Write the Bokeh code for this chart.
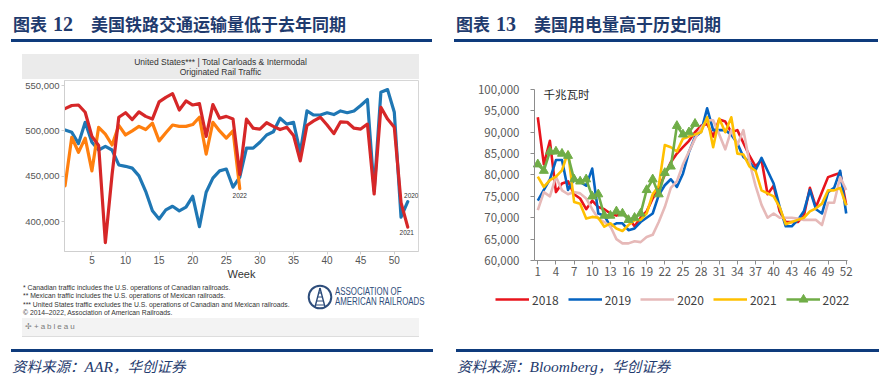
from bokeh.plotting import figure
from bokeh.layouts import row, column
from bokeh.models import Div, FixedTicker, NumeralTickFormatter, Range1d, Label, Legend, LegendItem
from bokeh.core.properties import value
from bokeh.embed import file_html
from bokeh.resources import INLINE

# ---------------- Left chart: AAR weekly rail traffic ----------------
rail_weeks = list(range(1, 53))
rail_weeks_2022 = list(range(1, 28))
rail_2020 = [501000, 498500, 486000, 509500, 487500, 479000, 483000, 479000, 462500, 461000,
             459000, 450500, 433500, 412000, 403000, 413000, 417000, 412000, 416000, 428000,
             394500, 432500, 448000, 456000, 458000, 438000, 449000, 481000, 481000, 487500,
             495500, 499000, 514000, 507500, 509500, 476000, 522000, 517500, 517500, 520000,
             518000, 522000, 520000, 522000, 528000, 534500, 434000, 542500, 545500, 520500,
             405000, 422000]
rail_2021 = [524500, 528000, 528500, 520500, 494000, 484000, 377000, 452000, 515000, 520000,
             512500, 521000, 516000, 513000, 532000, 537000, 541000, 523000, 533000, 528500,
             530000, 494000, 529000, 514000, 516000, 513000, 452000, 513000, 503000, 502000,
             509000, 505000, 501500, 504000, 495000, 467000, 506000, 511000, 515000, 506500,
             497000, 510000, 509500, 503000, 502000, 507500, 430500, 526000, 513000, 504000,
             421000, 394000]
rail_2022 = [439500, 493000, 476500, 492000, 456000, 504000, 496500, 484500, 506000, 495500,
             500000, 505000, 501500, 508500, 489000, 498000, 506500, 505000, 505000, 507000,
             515000, 474500, 509500, 500000, 492000, 500000, 436500]
rail_x_ticks = [5, 10, 15, 20, 25, 30, 35, 40, 45, 50]
rail_y_ticks = [400000, 450000, 500000, 550000]

# ---------------- Right chart: US electricity output ----------------
elec_weeks = list(range(1, 53))
elec_weeks_2022 = list(range(1, 28))
elec_2018 = [93500, 82500, 88000, 76000, 78000, 78500, 75500, 74500, 72000, 74000,
             72500, 72000, 71000, 70500, 71000, 70000, 68000, 70000, 71500, 74500,
             77000, 80000, 83000, 85000, 86500, 88000, 90000, 91500, 92000, 89000,
             93000, 92500, 90000, 90500, 87500, 84500, 82000, 83500, 75500, 77500,
             71500, 69000, 69000, 69000, 70500, 77000, 72500, 76000, 79500, 80000,
             80500, 73000]
elec_2019 = [74000, 76500, 79000, 83500, 83500, 76500, 79000, 78400, 77500, 81500,
             71000, 70500, 68000, 68700, 68700, 67100, 67500, 69000, 70000, 71000,
             75300, 77600, 79000, 77200, 80300, 85400, 88900, 90100, 95600, 90500,
             90500, 90500, 89400, 87400, 84200, 83100, 81100, 84000, 81000, 78000,
             72500, 68000, 68000, 69500, 71500, 76500, 72000, 71000, 76000, 77000,
             81000, 71000]
elec_2020 = [71800, 76000, 75000, 79600, 76400, 75500, 76000, 75700, 74500, 72000,
             69800, 69000, 68000, 65000, 64000, 64000, 64500, 64300, 65500, 66000,
             69000, 72500, 77000, 78500, 82500, 85500, 88500, 91000, 92800, 92800,
             89500, 86000, 90500, 87000, 90500, 83000, 77500, 73000, 70000, 71000,
             70000, 70000, 70000, 69800, 69500, 69500, 69500, 68300, 73500, 73500,
             79500, 76500]
elec_2021 = [79600, 77200, 78800, 79600, 81100, 85400, 73700, 73300, 69800, 70200,
             70000, 67900, 68700, 67500, 66900, 68300, 69400, 69500, 71000, 75500,
             77500, 87000, 86500, 85500, 88500, 89000, 89500, 90000, 93500, 86500,
             93200, 90000, 93500, 85000, 84800, 82000, 81000, 76400, 75700, 75000,
             72500, 68500, 69000, 69500, 70000, 71500, 72200, 73300, 76400, 76400,
             77000, 72900]
elec_2022 = [82500, 81000, 85500, 85500, 85000, 84500, 79000, 78500, 79000, 75000,
             75500, 70500, 70500, 71500, 71000, 69500, 70000, 71000, 76500, 79000,
             75500, 80500, 82000, 91500, 89500, 90000, 92000]
elec_x_ticks = [1, 4, 7, 10, 13, 16, 19, 22, 25, 28, 31, 34, 37, 40, 43, 46, 49, 52]
elec_y_ticks = [60000, 65000, 70000, 75000, 80000, 85000, 90000, 95000, 100000]
elec_x_bounds = (0.45, 52.2)
elec_y_bounds = (60000, 100000)
elec_labels = ["2018", "2019", "2020", "2021", "2022"]

NAVY = "#1F3B6E"
RULE = "#0E3B7C"
LW, RW = 444, 449   # column widths (left, right)

# ---------------- Left figure ----------------
p1 = figure(width=LW, height=204, x_range=Range1d(0.92, 53.6), y_range=Range1d(367200, 555500),
            output_backend="svg", toolbar_location=None,
            min_border_left=64, min_border_right=26, min_border_top=1, min_border_bottom=32,
            background_fill_color="white", border_fill_color="white",
            outline_line_color="#d6d6d6")
p1.grid.grid_line_color = None
for ax in (p1.xaxis[0], p1.yaxis[0]):
    ax.axis_line_color = "#cfcfcf"
    ax.major_tick_line_color = "#cfcfcf"
    ax.minor_tick_line_color = None
    ax.major_tick_in = 0
    ax.major_tick_out = 3
    ax.major_label_text_color = "#555555"
    ax.major_label_text_font = "Liberation Sans"
p1.xaxis.ticker = FixedTicker(ticks=rail_x_ticks)
p1.xaxis.major_label_text_font_size = "10px"
p1.xaxis.major_label_standoff = 1
p1.xaxis.axis_label = "Week"
p1.xaxis.axis_label_text_font = "Liberation Sans"
p1.xaxis.axis_label_text_font_style = "normal"
p1.xaxis.axis_label_text_font_size = "11px"
p1.xaxis.axis_label_text_color = "#333333"
p1.xaxis.axis_label_standoff = 1
p1.yaxis.ticker = FixedTicker(ticks=rail_y_ticks)
p1.yaxis.formatter = NumeralTickFormatter(format="0,0")
p1.yaxis.major_label_text_font_size = "9.5px"
p1.yaxis.major_label_standoff = 2

p1.line(rail_weeks, rail_2020, color="#1F77B4", line_width=3.2, line_join="round", line_cap="round")
p1.line(rail_weeks_2022, rail_2022, color="#FF7F0E", line_width=3.2, line_join="round", line_cap="round")
p1.line(rail_weeks, rail_2021, color="#D62728", line_width=3.2, line_join="round", line_cap="round")

lab_kw = dict(text_font=value("Liberation Sans"), text_font_size="6.5px", text_color="#333333")
p1.text(x=[rail_weeks_2022[-1]], y=[rail_2022[-1]], text=["2022"], text_align="center",
        text_baseline="top", y_offset=4, **lab_kw)
p1.text(x=[rail_weeks[-1]], y=[rail_2020[-1]], text=["2020"], text_align="center",
        text_baseline="bottom", x_offset=3.5, y_offset=-4, **lab_kw)
p1.text(x=[rail_weeks[-1]], y=[rail_2021[-1]], text=["2021"], text_align="center",
        text_baseline="top", x_offset=-1, y_offset=3, **lab_kw)

# ---------------- Right figure ----------------
# The frame covers the whole chart area (so the legend below the axis is not clipped);
# the axes are pinned at the data edges with fixed_location and limited with bounds.
p2 = figure(width=RW, height=286, x_range=Range1d(-10.13, 58.5), y_range=Range1d(47836, 102105),
            output_backend="svg", toolbar_location=None,
            min_border_left=26, min_border_right=8, min_border_top=28, min_border_bottom=26,
            background_fill_color="white", border_fill_color="white", outline_line_color=None)
p2.grid.grid_line_color = None
for ax in (p2.xaxis[0], p2.yaxis[0]):
    ax.axis_line_color = "#8c8c8c"
    ax.major_tick_line_color = "#8c8c8c"
    ax.minor_tick_line_color = None
    ax.major_tick_in = 0
    ax.major_tick_out = 4
    ax.major_label_text_color = "#595959"
    ax.major_label_text_font = "Noto Sans CJK SC"
    ax.major_label_text_font_size = "11.5px"
p2.xaxis.ticker = FixedTicker(ticks=elec_x_ticks)
p2.xaxis.major_label_standoff = 3
p2.xaxis.fixed_location = elec_y_bounds[0]
p2.xaxis.bounds = elec_x_bounds
p2.yaxis.ticker = FixedTicker(ticks=elec_y_ticks)
p2.yaxis.formatter = NumeralTickFormatter(format="0,0")
p2.yaxis.major_label_standoff = 11
p2.yaxis.fixed_location = elec_x_bounds[0]
p2.yaxis.bounds = elec_y_bounds

lw = 2.6
r18 = p2.line(elec_weeks, elec_2018, color="#E8141C", line_width=lw, line_join="round")
r19 = p2.line(elec_weeks, elec_2019, color="#0563C1", line_width=lw, line_join="round")
r20 = p2.line(elec_weeks, elec_2020, color="#E6B9B8", line_width=lw, line_join="round")
r21 = p2.line(elec_weeks, elec_2021, color="#FFC000", line_width=lw, line_join="round")
r22 = p2.line(elec_weeks_2022, elec_2022, color="#70AD47", line_width=lw, line_join="round")
r22m = p2.scatter(elec_weeks_2022, elec_2022, marker="triangle", size=9, color="#70AD47")

p2.add_layout(Label(x=73, y=219, x_units="screen", y_units="screen", text="千兆瓦时",
                    text_font="Noto Sans CJK SC", text_font_size="11.5px",
                    text_color="#262626", text_baseline="middle"))

legend = Legend(items=[LegendItem(label=elec_labels[0], renderers=[r18]),
                       LegendItem(label=elec_labels[1], renderers=[r19]),
                       LegendItem(label=elec_labels[2], renderers=[r20]),
                       LegendItem(label=elec_labels[3], renderers=[r21]),
                       LegendItem(label=elec_labels[4], renderers=[r22, r22m])],
                orientation="horizontal", location=(25, 2),
                glyph_width=34, glyph_height=22,
                label_height=12, label_standoff=3, spacing=9, padding=0, margin=0,
                border_line_alpha=0, background_fill_alpha=0,
                label_text_font="Noto Sans CJK SC", label_text_font_size="12px",
                label_text_color="#404040")
p2.add_layout(legend)

# ---------------- HTML pieces ----------------
def title_div(num, text, width, tleft, rleft, rwidth):
    html = (f'<div style="position:relative;width:{width}px;height:52px;">'
            f'<div style="position:absolute;left:{tleft}px;top:13px;white-space:nowrap;color:{NAVY};'
            f'font-weight:bold;line-height:21px;">'
            f'<span style="font-family:\'Noto Sans CJK SC\';font-size:17px;">图表</span>'
            f'<span style="font-family:\'Liberation Serif\';font-size:20px;margin-left:6px;">{num}</span>'
            f'<span style="font-family:\'Noto Sans CJK SC\';font-size:17px;margin-left:18px;">{text}</span>'
            f'</div>'
            f'<div style="position:absolute;left:{rleft}px;top:39px;width:{rwidth}px;height:3px;background:{RULE};"></div>'
            f'</div>')
    return Div(text=html, width=width, height=52, margin=0)


def source_div(src, width, left, rwidth):
    html = (f'<div style="position:relative;width:{width}px;height:44px;">'
            f'<div style="position:absolute;left:{left}px;top:11px;width:{rwidth}px;height:3px;background:{RULE};"></div>'
            f'<div style="position:absolute;left:{left + 1}px;top:20px;white-space:nowrap;color:{NAVY};'
            f'font-style:italic;font-size:14.5px;line-height:16px;font-family:\'Noto Sans CJK SC\';">'
            f'资料来源：<span style="font-family:\'Liberation Serif\';font-size:15.5px;">{src}</span>，华创证券</div>'
            f'</div>')
    return Div(text=html, width=width, height=44, margin=0)


header_html = (f'<div style="position:relative;width:{LW}px;height:27px;">'
               '<div style="position:absolute;left:22px;top:2px;width:397px;height:25px;background:#ebebeb;'
               'text-align:center;font-family:\'Liberation Sans\';font-size:8.5px;line-height:10px;color:#333;">'
               '<div style="padding-top:3px;">United States*** | Total Carloads &amp; Intermodal<br>'
               'Originated Rail Traffic</div></div></div>')
header_div = Div(text=header_html, width=LW, height=27, margin=0)

foot_html = (f'<div style="position:relative;width:{LW}px;height:35px;">'
             '<div style="position:absolute;left:23px;top:1px;white-space:nowrap;font-family:\'Liberation Sans\';'
             'font-size:6.8px;line-height:8.3px;color:#333;">'
             '* Canadian traffic includes the U.S. operations of Canadian railroads.<br>'
             '** Mexican traffic includes the U.S. operations of Mexican railroads.<br>'
             '*** United States traffic excludes the U.S. operations of Canadian and Mexican railroads.<br>'
             '&copy; 2014&ndash;2022, Association of American Railroads.</div>'
             '<svg width="26" height="26" viewBox="0 0 26 26" style="position:absolute;left:307px;top:1px;">'
             '<circle cx="13" cy="13" r="11.3" fill="none" stroke="#2E4D7B" stroke-width="2"/>'
             '<path d="M13 4 L8 23 M13 4 L18 23" stroke="#2E4D7B" stroke-width="1.4" fill="none"/>'
             '<path d="M11 9 H15 M10.2 13 H15.8 M9.4 17 H16.6 M8.6 21 H17.4" stroke="#2E4D7B" stroke-width="1.1"/>'
             '</svg>'
             '<div style="position:absolute;left:335px;top:4px;white-space:nowrap;font-family:\'Liberation Sans\';'
             'font-size:10px;line-height:9.5px;color:#2E4D7B;transform:scaleX(0.79);transform-origin:left top;">'
             'ASSOCIATION OF<br>AMERICAN RAILROADS</div>'
             '</div>')
foot_div = Div(text=foot_html, width=LW, height=35, margin=0)

tab_html = (f'<div style="position:relative;width:{LW}px;height:20px;">'
            '<div style="position:absolute;left:22px;top:0px;width:397px;height:19px;background:#f3f3f3;'
            'border-bottom:1px solid #dddddd;"></div>'
            '<div style="position:absolute;left:25px;top:4px;white-space:nowrap;font-family:\'Liberation Sans\';'
            'font-size:8px;line-height:10px;color:#7a7a7a;letter-spacing:2px;">✢+ableau</div>'
            '</div>')
tab_div = Div(text=tab_html, width=LW, height=20, margin=0)

left_col = column(title_div("12", "美国铁路交通运输量低于去年同期", LW, 13, 11, 421),
                  header_div, p1, foot_div, tab_div,
                  source_div("AAR", LW, 11, 422), spacing=0)
right_col = column(title_div("13", "美国用电量高于历史同期", RW, 12, 10, 424),
                   p2,
                   source_div("Bloomberg", RW, 12, 423), spacing=0)
layout = row(left_col, right_col, spacing=0)

open("out.html", "w").write(file_html(layout, INLINE))
